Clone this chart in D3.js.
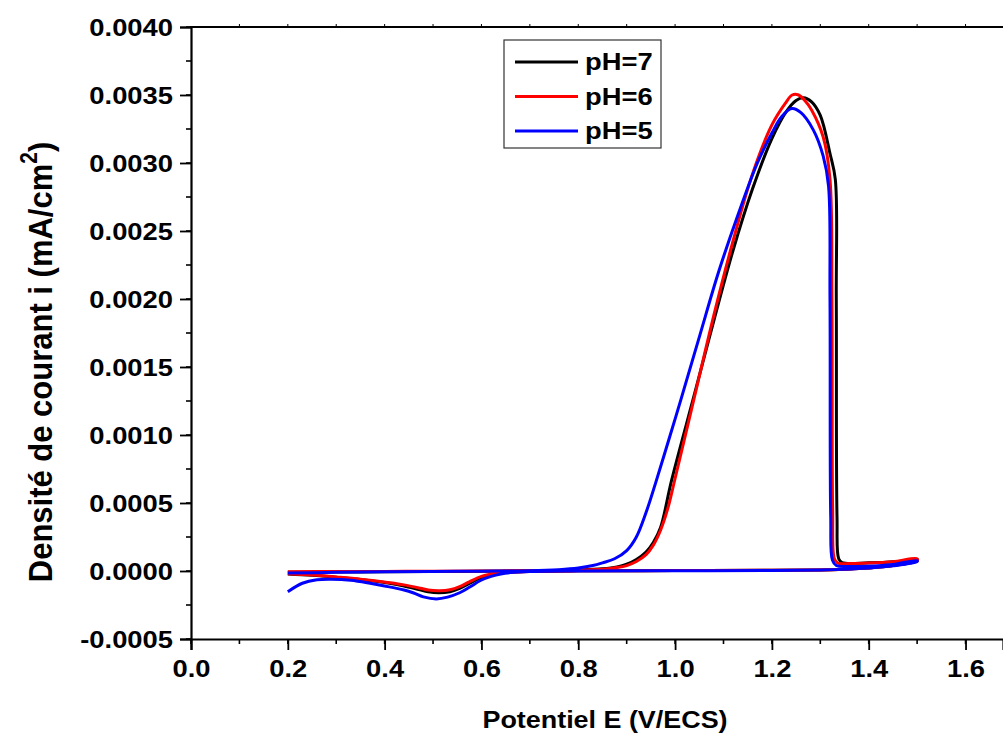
<!DOCTYPE html>
<html>
<head>
<meta charset="utf-8">
<script src="https://cdn.jsdelivr.net/npm/d3@7/dist/d3.min.js"></script>
<style>
  html, body { margin: 0; padding: 0; background: #fff; }
  svg { display: block; }
  text { font-family: "Liberation Sans", Arial, sans-serif; font-weight: bold; fill: #000; }
</style>
</head>
<body>
<svg id="chart" width="1003" height="735"></svg>
<script>
// ---------------- data (E in V/ECS, i in mA/cm²) ----------------
const seriesNames = ["pH=7", "pH=6", "pH=5"];
const seriesColors = ["#000000", "#ff0000", "#0000ff"];

const xTicks = [0.0, 0.2, 0.4, 0.6, 0.8, 1.0, 1.2, 1.4, 1.6];
const yTicks = [-0.0005, 0.0, 0.0005, 0.0010, 0.0015, 0.0020, 0.0025, 0.0030, 0.0035, 0.0040];

// pH = 7 (black) : anodic scan then return scan
const pH7_forward = [
  [0.20,-0.000010],[0.30,-0.000008],[0.40,-0.000006],[0.50,-0.000004],[0.60,-0.000002],
  [0.70,0.000001],[0.75,0.000003],[0.80,0.000007],[0.85,0.000016],[0.88,0.000030],
  [0.90,0.000050],[0.92,0.000085],[0.94,0.00014],[0.955,0.00021],[0.97,0.00032],
  [0.993,0.00067],[1.04,0.00130],[1.08,0.00184],[1.12,0.00236],[1.16,0.00281],
  [1.20,0.00318],[1.23,0.00338],[1.250,0.00346],[1.265,0.00348],
  [1.282,0.00345],[1.300,0.00335],[1.320,0.00307],[1.331,0.00288],[1.333,0.00200],
  [1.3345,0.00040],[1.338,0.00009],[1.345,0.000062],[1.40,0.000060],[1.458,0.000070],
  [1.50,0.000086]
];
const pH7_reverse = [
  [1.50,0.000075],[1.45,0.000040],[1.40,0.000022],[1.35,0.000013],[1.30,0.000008],
  [1.20,0.000005],[1.00,0.000003],[0.80,0.000001],[0.70,-0.000003],[0.65,-0.000010],
  [0.625,-0.000022],[0.60,-0.000047],[0.575,-0.000092],[0.555,-0.000128],[0.535,-0.000152],
  [0.512,-0.000160],[0.49,-0.000153],[0.47,-0.000136],[0.44,-0.000110],[0.41,-0.000090],
  [0.35,-0.000062],[0.30,-0.000046],[0.25,-0.000032],[0.20,-0.000022]
];

// pH = 6 (red)
const pH6_forward = [
  [0.20,-0.000005],[0.30,-0.000004],[0.40,-0.000003],[0.50,-0.000002],[0.60,0.000000],
  [0.70,0.000002],[0.75,0.000004],[0.80,0.000007],[0.85,0.000013],[0.88,0.000025],
  [0.90,0.000040],[0.92,0.000070],[0.94,0.00012],[0.955,0.00019],[0.97,0.00030],
  [0.985,0.00046],[1.00,0.00068],[1.04,0.00128],[1.08,0.00188],[1.12,0.00243],
  [1.16,0.00292],[1.20,0.00328],[1.228,0.00344],[1.242,0.00350],[1.255,0.00350],
  [1.268,0.00346],[1.282,0.00339],[1.306,0.00319],[1.320,0.00288],[1.324,0.00200],
  [1.3255,0.00045],[1.329,0.00009],[1.336,0.000058],[1.36,0.000055],[1.40,0.000058],
  [1.45,0.000068],[1.50,0.000090]
];
const pH6_reverse = [
  [1.50,0.000075],[1.45,0.000040],[1.40,0.000022],[1.35,0.000013],[1.30,0.000008],
  [1.20,0.000005],[1.00,0.000003],[0.80,0.000001],[0.70,-0.000003],[0.65,-0.000010],
  [0.625,-0.000020],[0.60,-0.000040],[0.575,-0.000080],[0.555,-0.000115],[0.535,-0.000138],
  [0.514,-0.000145],[0.49,-0.000140],[0.474,-0.000127],[0.44,-0.000102],[0.41,-0.000086],
  [0.35,-0.000060],[0.30,-0.000044],[0.25,-0.000030],[0.20,-0.000020]
];

// pH = 5 (blue)
const pH5_forward = [
  [0.20,-0.000015],[0.30,-0.000010],[0.40,-0.000006],[0.50,-0.000003],[0.60,-0.000001],
  [0.70,0.000002],[0.76,0.000010],[0.80,0.000022],[0.83,0.000040],[0.85,0.000060],
  [0.875,0.000090],[0.90,0.000150],[0.92,0.00025],[0.94,0.00043],[0.96,0.00065],
  [0.99,0.00100],[1.012,0.00126],[1.05,0.00172],[1.09,0.00220],[1.13,0.00262],
  [1.17,0.00300],[1.20,0.00322],[1.22,0.00334],[1.241,0.00340],[1.260,0.00337],[1.286,0.00324],
  [1.306,0.00305],[1.317,0.00283],[1.320,0.00200],[1.3215,0.00040],[1.325,0.00008],
  [1.333,0.000040],[1.36,0.000033],[1.40,0.000035],[1.45,0.000048],[1.50,0.000076]
];
const pH5_reverse = [
  [1.50,0.000070],[1.45,0.000038],[1.40,0.000022],[1.35,0.000013],[1.30,0.000008],
  [1.20,0.000004],[1.00,0.000002],[0.80,0.000000],[0.70,-0.000004],[0.66,-0.000012],
  [0.64,-0.000022],[0.62,-0.000040],[0.598,-0.000070],[0.575,-0.000120],[0.555,-0.000160],
  [0.53,-0.000192],[0.507,-0.000205],[0.48,-0.000190],[0.46,-0.000162],[0.44,-0.000140],
  [0.40,-0.000110],[0.37,-0.000090],[0.33,-0.000068],[0.29,-0.000060],[0.26,-0.000064],
  [0.23,-0.000090],[0.20,-0.000152]
];

const seriesData = [
  pH7_forward.concat(pH7_reverse),
  pH6_forward.concat(pH6_reverse),
  pH5_forward.concat(pH5_reverse)
];

// ---------------- layout ----------------
const svg = d3.select("#chart");
const mL = 191, mR = 1003, mT = 27, mB = 639;
const FS = 23;     // tick / legend font size
const SX = 1.19;   // horizontal stretch of the reference typography

const x = d3.scaleLinear().domain([0, 1.6774]).range([mL, mR]);
const y = d3.scaleLinear().domain([-0.0005, 0.0040]).range([mB, mT]);

const xMinor = d3.range(0, 1.68, 0.1);
const yMinor = d3.range(-0.0005, 0.00401, 0.00025);

// bottom axis
const gx = svg.append("g").attr("transform", `translate(0,${mB})`);
gx.append("g").selectAll("line").data(xMinor).join("line")
  .attr("x1", d => x(d)).attr("x2", d => x(d)).attr("y1", 0).attr("y2", 5)
  .attr("stroke", "#000").attr("stroke-width", 1.6);
const xAxis = d3.axisBottom(x).tickValues(xTicks).tickFormat(d3.format(".1f"))
  .tickSize(11).tickPadding(0);
gx.call(xAxis);
gx.select(".domain").attr("stroke-width", 2.2);
gx.selectAll(".tick line").attr("stroke-width", 1.8);
gx.selectAll(".tick text")
  .attr("font-size", FS).attr("dy", 0).attr("y", 0)
  .attr("transform", `translate(0,38) scale(${SX},1)`)
  .style("font-family", "'Liberation Sans', Arial, sans-serif").style("font-weight", "bold");

// left axis
const gy = svg.append("g").attr("transform", `translate(${mL},0)`);
gy.append("g").selectAll("line").data(yMinor).join("line")
  .attr("x1", 0).attr("x2", -5).attr("y1", d => y(d)).attr("y2", d => y(d))
  .attr("stroke", "#000").attr("stroke-width", 1.6);
const yAxis = d3.axisLeft(y).tickValues(yTicks).tickFormat(d3.format(".4f"))
  .tickSize(11).tickPadding(0);
gy.call(yAxis);
gy.select(".domain").attr("stroke-width", 2.2);
gy.selectAll(".tick line").attr("stroke-width", 1.8);
gy.selectAll(".tick text")
  .attr("font-size", FS).attr("x", -18 / SX).attr("dy", "0.36em")
  .attr("transform", `scale(${SX},1)`)
  .style("font-family", "'Liberation Sans', Arial, sans-serif").style("font-weight", "bold")
  .text(d => d3.format(".4f")(d).replace("\u2212", "-"));

// top frame line with small outward ticks
const gt = svg.append("g").attr("transform", `translate(0,${mT})`);
gt.append("line").attr("x1", mL - 1).attr("x2", mR).attr("y1", 0).attr("y2", 0)
  .attr("stroke", "#000").attr("stroke-width", 2.2);
gt.selectAll("line.tk").data(xMinor.filter(d => d > 0)).join("line").attr("class", "tk")
  .attr("x1", d => x(d)).attr("x2", d => x(d)).attr("y1", 0).attr("y2", -3)
  .attr("stroke", "#000").attr("stroke-width", 1);

// curves
const line = d3.line()
  .x(d => x(d[0])).y(d => y(d[1]))
  .curve(d3.curveCatmullRom.alpha(0.5));
const gc = svg.append("g");
seriesData.forEach((pts, k) => {
  gc.append("path").attr("d", line(pts))
    .attr("fill", "none").attr("stroke", seriesColors[k])
    .attr("stroke-width", 3).attr("stroke-linejoin", "round");
});

// axis titles
svg.append("text")
  .attr("transform", `translate(605,728) scale(1.17,1)`)
  .attr("text-anchor", "middle").attr("font-size", 23)
  .text("Potentiel E (V/ECS)");

const yt = svg.append("text")
  .attr("transform", `translate(52,362) rotate(-90) scale(1,1.1)`)
  .attr("text-anchor", "middle").attr("font-size", 31);
yt.append("tspan").text("Densité de courant i (mA/cm");
yt.append("tspan").attr("font-size", 21).attr("dy", -14).text("2");
yt.append("tspan").attr("dy", 14).text(")");

// legend
const lg = svg.append("g");
lg.append("rect").attr("x", 504).attr("y", 40).attr("width", 157).attr("height", 108)
  .attr("fill", "#fff").attr("stroke", "#333").attr("stroke-width", 1.2);
seriesNames.forEach((name, k) => {
  const yy = 62 + k * 34.5;
  lg.append("line").attr("x1", 515).attr("x2", 578).attr("y1", yy).attr("y2", yy)
    .attr("stroke", seriesColors[k]).attr("stroke-width", 3);
  lg.append("text").attr("transform", `translate(585,${yy + 8}) scale(${SX},1)`)
    .attr("font-size", FS).text(name);
});
</script>
</body>
</html>
